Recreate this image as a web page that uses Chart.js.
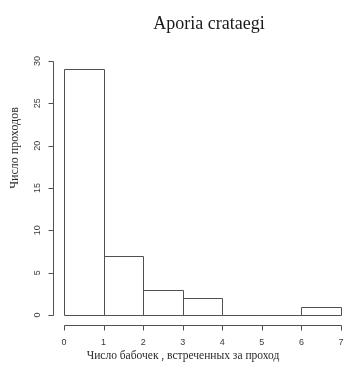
<!DOCTYPE html>
<html>
<head>
<meta charset="utf-8">
<script src="https://cdn.jsdelivr.net/npm/chart.js@4"></script>
<style>
  html, body { margin: 0; padding: 0; background: #fff; }
  #chart { display: block; }
</style>
</head>
<body>
<canvas id="chart" width="345" height="368"></canvas>
<script>
// ---------- Data ----------
const binStarts = [0, 1, 2, 3, 4, 5, 6];
const binWidth = 1;
const counts = [29, 7, 3, 2, 0, 0, 1];
const xTicks = [0, 1, 2, 3, 4, 5, 6, 7];
const yTicks = [0, 5, 10, 15, 20, 25, 30];

const mainTitle = 'Aporia crataegi';
const xTitle = 'Число бабочек , встреченных за проход';
const yTitle = 'Число проходов';

const lineColor = '#505050';
const textColor = '#2a2a2a';

// ---------- R-style axes, outlines, titles ----------
const rStyle = {
  id: 'rStyle',
  afterDatasetsDraw(chart) {
    const ctx = chart.ctx;
    const meta = chart.getDatasetMeta(0);
    ctx.save();
    ctx.strokeStyle = lineColor;
    ctx.lineWidth = 1;
    // outline of each bar (single line on shared edges)
    meta.data.forEach(bar => {
      const l = Math.round(bar.x - bar.width / 2) + 0.5;
      const r = Math.round(bar.x + bar.width / 2) + 0.5;
      const t = Math.round(bar.y) + 0.5;
      const b = Math.round(bar.base) + 0.5;
      ctx.beginPath();
      ctx.rect(l, t, r - l, b - t);
      ctx.stroke();
    });
    ctx.restore();
  },
  afterDraw(chart) {
    const ctx = chart.ctx;
    const xs = chart.scales.x, ys = chart.scales.y;
    const area = chart.chartArea;
    ctx.save();
    ctx.strokeStyle = lineColor;
    ctx.lineWidth = 1;

    // x axis
    const ax = Math.round(area.bottom + 10) + 0.5;
    ctx.beginPath();
    ctx.moveTo(Math.round(xs.getPixelForValue(xTicks[0])) + 0.5, ax);
    ctx.lineTo(Math.round(xs.getPixelForValue(xTicks[xTicks.length - 1])) + 0.5, ax);
    xTicks.forEach(v => {
      const px = Math.round(xs.getPixelForValue(v)) + 0.5;
      ctx.moveTo(px, ax);
      ctx.lineTo(px, ax + 5);
    });
    ctx.stroke();

    ctx.fillStyle = '#3a3a3a';
    ctx.font = '9px "Liberation Sans", Arial, sans-serif';
    ctx.textAlign = 'center';
    ctx.textBaseline = 'middle';
    xTicks.forEach(v => {
      ctx.fillText(String(v), xs.getPixelForValue(v), ax + 17);
    });

    // y axis
    const ay = Math.round(area.left - 11) + 0.5;
    ctx.beginPath();
    ctx.moveTo(ay, Math.round(ys.getPixelForValue(yTicks[0])) + 0.5);
    ctx.lineTo(ay, Math.round(ys.getPixelForValue(yTicks[yTicks.length - 1])) + 0.5);
    yTicks.forEach(v => {
      const py = Math.round(ys.getPixelForValue(v)) + 0.5;
      ctx.moveTo(ay, py);
      ctx.lineTo(ay - 5, py);
    });
    ctx.stroke();

    yTicks.forEach(v => {
      ctx.save();
      ctx.translate(ay - 16, ys.getPixelForValue(v));
      ctx.rotate(-Math.PI / 2);
      ctx.fillText(String(v), 0, 0);
      ctx.restore();
    });

    // titles
    ctx.fillStyle = '#1a1a1a';
    ctx.textBaseline = 'alphabetic';
    ctx.font = '18px "Liberation Serif", "Times New Roman", serif';
    ctx.fillText(mainTitle, 209, 29);

    ctx.fillStyle = textColor;
    ctx.font = '11.5px "Liberation Serif", "Times New Roman", serif';
    ctx.textBaseline = 'middle';
    ctx.fillText(xTitle, 183, 356);

    ctx.save();
    ctx.translate(15, 148);
    ctx.rotate(-Math.PI / 2);
    ctx.font = '12px "Liberation Serif", "Times New Roman", serif';
    ctx.fillText(yTitle, 0, 0);
    ctx.restore();

    ctx.restore();
  }
};

// ---------- Chart ----------
new Chart(document.getElementById('chart'), {
  type: 'bar',
  data: {
    datasets: [{
      data: binStarts.map((b, i) => ({ x: b + binWidth / 2, y: counts[i] })),
      backgroundColor: '#ffffff',
      borderWidth: 0,
      barPercentage: 1,
      categoryPercentage: 1
    }]
  },
  options: {
    responsive: false,
    devicePixelRatio: 1,
    animation: false,
    layout: { padding: { left: 64, right: 4, top: 61, bottom: 53 } },
    plugins: {
      legend: { display: false },
      tooltip: { enabled: false },
      title: { display: false }
    },
    scales: {
      x: { type: 'linear', min: xTicks[0], max: xTicks[xTicks.length - 1], display: false, offset: false },
      y: { type: 'linear', min: yTicks[0], max: yTicks[yTicks.length - 1], display: false }
    }
  },
  plugins: [rStyle]
});
</script>
</body>
</html>
